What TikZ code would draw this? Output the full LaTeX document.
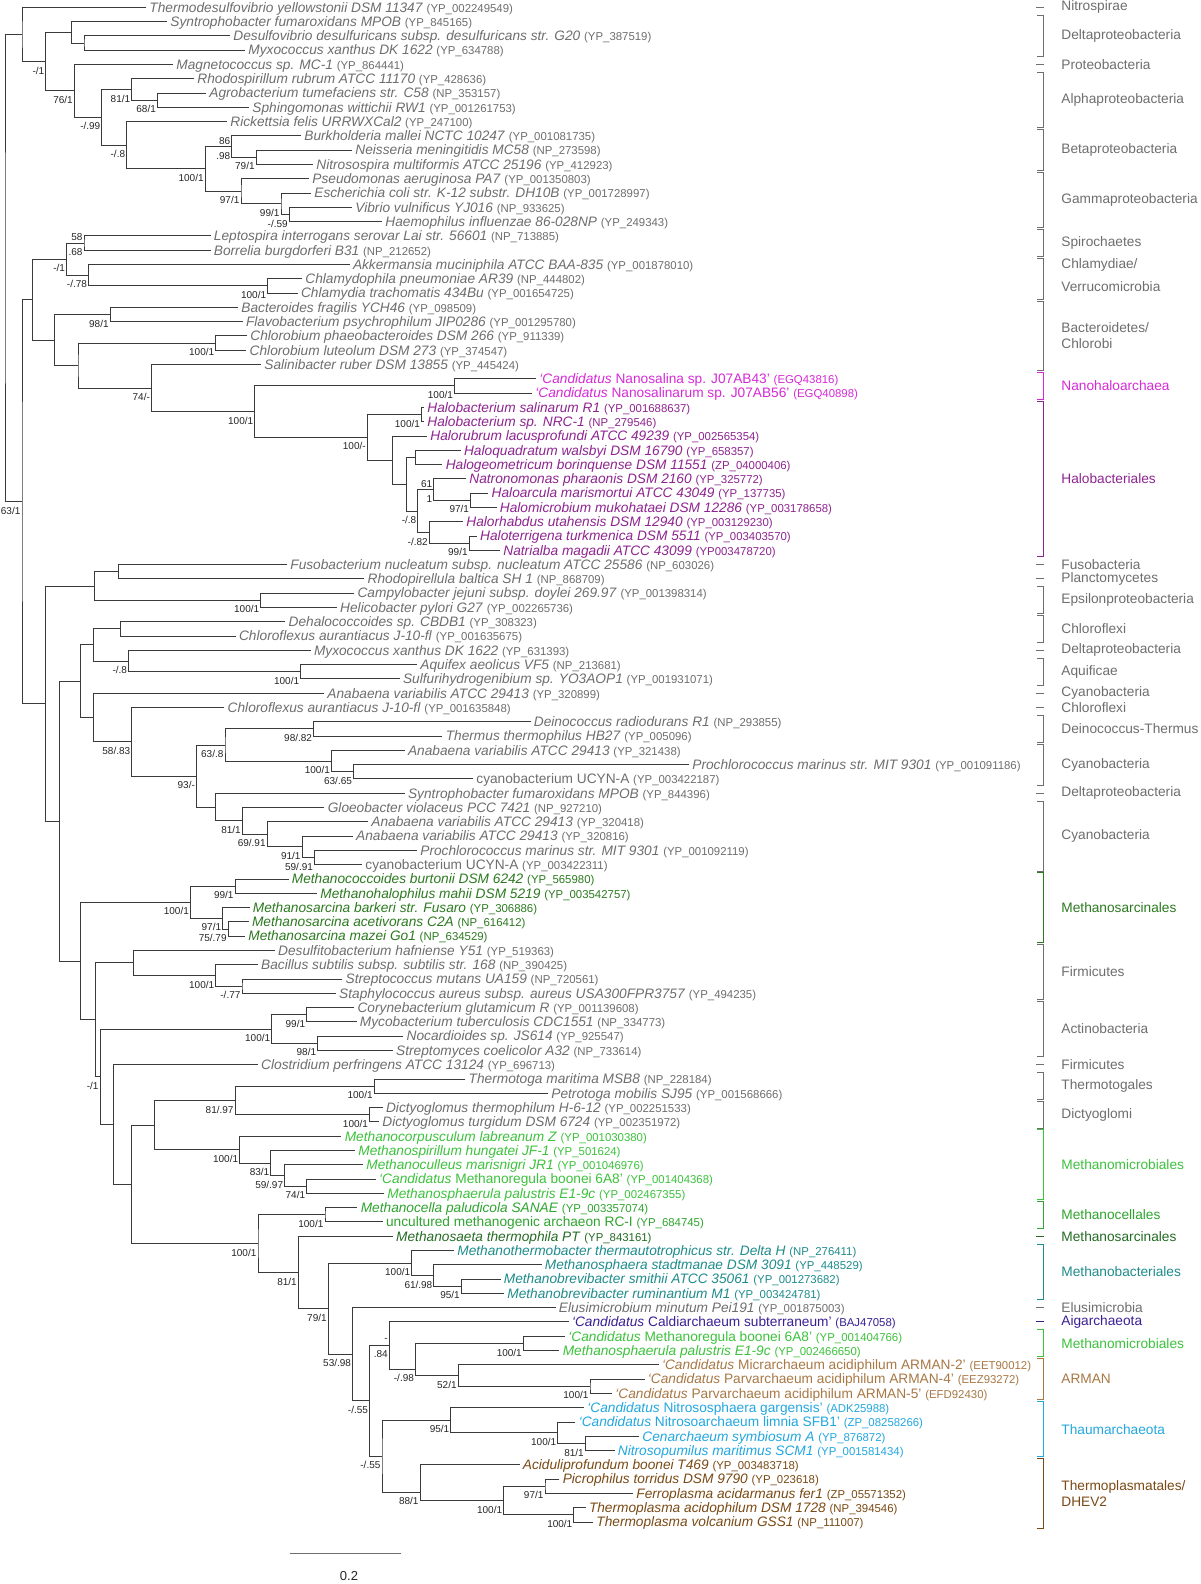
\documentclass[tikz,border=0pt]{standalone}
\usepackage{fontspec}
\setmainfont{Liberation Sans}
\usetikzlibrary{calc}
\definecolor{treeline}{HTML}{3A3A3A}
\definecolor{ggray}{HTML}{6E6E6E}
\definecolor{nano}{HTML}{D62AD6}
\definecolor{halo}{HTML}{8E2490}
\definecolor{msar}{HTML}{2C7A20}
\definecolor{mmic}{HTML}{3CC23C}
\definecolor{mcel}{HTML}{2EA52E}
\definecolor{msae}{HTML}{246B24}
\definecolor{mbac}{HTML}{1F8C8C}
\definecolor{aig}{HTML}{3A1F94}
\definecolor{arman}{HTML}{A87845}
\definecolor{thaum}{HTML}{22A7E0}
\definecolor{tplas}{HTML}{7A4A14}
\newcommand\Lf[5]{\coordinate (l#1) at (#2,{7.3+(#1-1)*14.29});
  \node[leafnode,text=#5] (t#1) at (l#1) {\textit{#3} {\fontsize{5.7}{6}\selectfont(#4)}};}
\newcommand\Lfu[5]{\coordinate (l#1) at (#2,{7.3+(#1-1)*14.29});
  \node[leafnode,text=#5] (t#1) at (l#1) {#3 {\fontsize{5.7}{6}\selectfont(#4)}};}
\newcommand\Tn[4]{\coordinate (#1m) at ($(#3)!0.5!(#4)$);
  \coordinate (#1x) at (#2,0);
  \coordinate (#1) at (#1x |- #1m);
  \draw[br] (#3) -| (#1) |- (#4);}
\newcommand\Tny[5]{\coordinate (#1) at (#2,#3);
  \draw[br] (#4) -| (#1) |- (#5);}
\newcommand\Bs[3][]{\node[sup,#1] at (#2) {#3};}
\newcommand\Grp[5][]{\draw[gline,draw=#5] (1037,{7.3+(#2-1)*14.29-6.3}) -- (1043,{7.3+(#2-1)*14.29-6.3}) -- (1043,{7.3+(#3-1)*14.29+6.3}) -- (1037,{7.3+(#3-1)*14.29+6.3});
  \node[glab,text=#5,#1] at (1061,{7.3+(#2+#3-2)*14.29/2}) {#4};}
\newcommand\Sg[3]{\draw[gline,draw=#3] (1036,{7.3+(#1-1)*14.29}) -- (1044,{7.3+(#1-1)*14.29});
  \node[glab,text=#3] at (1061,{7.3+(#1-1)*14.29}) {#2};}
\begin{document}
\begin{tikzpicture}[x=0.5pt,y=-0.5pt,
  br/.style={draw=treeline,line width=0.5pt},
  gline/.style={line width=0.5pt},
  leafnode/.style={anchor=base west,inner sep=0pt,xshift=1.5pt,yshift=-2.4pt,font=\fontsize{6.85}{7}\selectfont},
  sup/.style={anchor=east,inner sep=0pt,xshift=-0.6pt,yshift=-4.5pt,font=\fontsize{5}{6}\selectfont,text=black!85},
  supa/.style={yshift=7.5pt},
  glab/.style={anchor=west,inner sep=0pt,align=left,font=\fontsize{6.85}{8}\selectfont}]
\fill[white] (0,0) rectangle (1200,1584);
\useasboundingbox (0,0) rectangle (1200,1584);
% leaves
\Lf{1}{146}{Thermodesulfovibrio yellowstonii DSM 11347}{YP\_002249549}{ggray}
\Lf{2}{167}{Syntrophobacter fumaroxidans MPOB}{YP\_845165}{ggray}
\Lf{3}{230}{Desulfovibrio desulfuricans subsp. desulfuricans str. G20}{YP\_387519}{ggray}
\Lf{4}{245}{Myxococcus xanthus DK 1622}{YP\_634788}{ggray}
\Lf{5}{173}{Magnetococcus sp. MC-1}{YP\_864441}{ggray}
\Lf{6}{194}{Rhodospirillum rubrum ATCC 11170}{YP\_428636}{ggray}
\Lf{7}{206}{Agrobacterium tumefaciens str. C58}{NP\_353157}{ggray}
\Lf{8}{249}{Sphingomonas wittichii RW1}{YP\_001261753}{ggray}
\Lf{9}{227}{Rickettsia felis URRWXCal2}{YP\_247100}{ggray}
\Lf{10}{301}{Burkholderia mallei NCTC 10247}{YP\_001081735}{ggray}
\Lf{11}{352}{Neisseria meningitidis MC58}{NP\_273598}{ggray}
\Lf{12}{313}{Nitrosospira multiformis ATCC 25196}{YP\_412923}{ggray}
\Lf{13}{309}{Pseudomonas aeruginosa PA7}{YP\_001350803}{ggray}
\Lf{14}{311}{Escherichia coli str. K-12 substr. DH10B}{YP\_001728997}{ggray}
\Lf{15}{352}{Vibrio vulnificus YJ016}{NP\_933625}{ggray}
\Lf{16}{382}{Haemophilus influenzae 86-028NP}{YP\_249343}{ggray}
\Lf{17}{210.5}{Leptospira interrogans serovar Lai str. 56601}{NP\_713885}{ggray}
\Lf{18}{210.5}{Borrelia burgdorferi B31}{NP\_212652}{ggray}
\Lf{19}{349.6}{Akkermansia muciniphila ATCC BAA-835}{YP\_001878010}{ggray}
\Lf{20}{302}{Chlamydophila pneumoniae AR39}{NP\_444802}{ggray}
\Lf{21}{297.7}{Chlamydia trachomatis 434Bu}{YP\_001654725}{ggray}
\Lf{22}{238}{Bacteroides fragilis YCH46}{YP\_098509}{ggray}
\Lf{23}{242.6}{Flavobacterium psychrophilum JIP0286}{YP\_001295780}{ggray}
\Lf{24}{247}{Chlorobium phaeobacteroides DSM 266}{YP\_911339}{ggray}
\Lf{25}{246.3}{Chlorobium luteolum DSM 273}{YP\_374547}{ggray}
\Lf{26}{261}{Salinibacter ruber DSM 13855}{YP\_445424}{ggray}
\Lfu{27}{536}{{\itshape ‘Candidatus} Nanosalina sp. J07AB43’}{EGQ43816}{nano}
\Lfu{28}{532}{{\itshape ‘Candidatus} Nanosalinarum sp. J07AB56’}{EGQ40898}{nano}
\Lf{29}{424}{Halobacterium salinarum R1}{YP\_001688637}{halo}
\Lf{30}{424}{Halobacterium sp. NRC-1}{NP\_279546}{halo}
\Lf{31}{427}{Halorubrum lacusprofundi ATCC 49239}{YP\_002565354}{halo}
\Lf{32}{460.7}{Haloquadratum walsbyi DSM 16790}{YP\_658357}{halo}
\Lf{33}{442.4}{Halogeometricum borinquense DSM 11551}{ZP\_04000406}{halo}
\Lf{34}{466}{Natronomonas pharaonis DSM 2160}{YP\_325772}{halo}
\Lf{35}{488.3}{Haloarcula marismortui ATCC 43049}{YP\_137735}{halo}
\Lf{36}{496.5}{Halomicrobium mukohataei DSM 12286}{YP\_003178658}{halo}
\Lf{37}{463}{Halorhabdus utahensis DSM 12940}{YP\_003129230}{halo}
\Lf{38}{476.8}{Haloterrigena turkmenica DSM 5511}{YP\_003403570}{halo}
\Lf{39}{500}{Natrialba magadii ATCC 43099}{YP003478720}{halo}
\Lf{40}{287}{Fusobacterium nucleatum subsp. nucleatum ATCC 25586}{NP\_603026}{ggray}
\Lf{41}{364.3}{Rhodopirellula baltica SH 1}{NP\_868709}{ggray}
\Lf{42}{354.2}{Campylobacter jejuni subsp. doylei 269.97}{YP\_001398314}{ggray}
\Lf{43}{336.8}{Helicobacter pylori G27}{YP\_002265736}{ggray}
\Lf{44}{285.3}{Dehalococcoides sp. CBDB1}{YP\_308323}{ggray}
\Lf{45}{235.7}{Chloroflexus aurantiacus J-10-fl}{YP\_001635675}{ggray}
\Lf{46}{310.6}{Myxococcus xanthus DK 1622}{YP\_631393}{ggray}
\Lf{47}{417}{Aquifex aeolicus VF5}{NP\_213681}{ggray}
\Lf{48}{399.7}{Sulfurihydrogenibium sp. YO3AOP1}{YP\_001931071}{ggray}
\Lf{49}{324}{Anabaena variabilis ATCC 29413}{YP\_320899}{ggray}
\Lf{50}{224.3}{Chloroflexus aurantiacus J-10-fl}{YP\_001635848}{ggray}
\Lf{51}{530.5}{Deinococcus radiodurans R1}{NP\_293855}{ggray}
\Lf{52}{442.4}{Thermus thermophilus HB27}{YP\_005096}{ggray}
\Lf{53}{404.7}{Anabaena variabilis ATCC 29413}{YP\_321438}{ggray}
\Lf{54}{689}{Prochlorococcus marinus str. MIT 9301}{YP\_001091186}{ggray}
\Lfu{55}{473}{cyanobacterium UCYN-A}{YP\_003422187}{ggray}
\Lf{56}{404.7}{Syntrophobacter fumaroxidans MPOB}{YP\_844396}{ggray}
\Lf{57}{324.4}{Gloeobacter violaceus PCC 7421}{NP\_927210}{ggray}
\Lf{58}{368}{Anabaena variabilis ATCC 29413}{YP\_320418}{ggray}
\Lf{59}{352.8}{Anabaena variabilis ATCC 29413}{YP\_320816}{ggray}
\Lf{60}{417}{Prochlorococcus marinus str. MIT 9301}{YP\_001092119}{ggray}
\Lfu{61}{362}{cyanobacterium UCYN-A}{YP\_003422311}{ggray}
\Lf{62}{288.5}{Methanococcoides burtonii DSM 6242}{YP\_565980}{msar}
\Lf{63}{317}{Methanohalophilus mahii DSM 5219}{YP\_003542757}{msar}
\Lf{64}{249.5}{Methanosarcina barkeri str. Fusaro}{YP\_306886}{msar}
\Lf{65}{248.6}{Methanosarcina acetivorans C2A}{NP\_616412}{msar}
\Lf{66}{245}{Methanosarcina mazei Go1}{NP\_634529}{msar}
\Lf{67}{274.8}{Desulfitobacterium hafniense Y51}{YP\_519363}{ggray}
\Lf{68}{257.8}{Bacillus subtilis subsp. subtilis str. 168}{NP\_390425}{ggray}
\Lf{69}{342.3}{Streptococcus mutans UA159}{NP\_720561}{ggray}
\Lf{70}{335.8}{Staphylococcus aureus subsp. aureus USA300FPR3757}{YP\_494235}{ggray}
\Lf{71}{354.2}{Corynebacterium glutamicum R}{YP\_001139608}{ggray}
\Lf{72}{356.5}{Mycobacterium tuberculosis CDC1551}{NP\_334773}{ggray}
\Lf{73}{403.3}{Nocardioides sp. JS614}{YP\_925547}{ggray}
\Lf{74}{392.8}{Streptomyces coelicolor A32}{NP\_733614}{ggray}
\Lf{75}{257.8}{Clostridium perfringens ATCC 13124}{YP\_696713}{ggray}
\Lf{76}{465.3}{Thermotoga maritima MSB8}{NP\_228184}{ggray}
\Lf{77}{548}{Petrotoga mobilis SJ95}{YP\_001568666}{ggray}
\Lf{78}{382.7}{Dictyoglomus thermophilum H-6-12}{YP\_002251533}{ggray}
\Lf{79}{379}{Dictyoglomus turgidum DSM 6724}{YP\_002351972}{ggray}
\Lf{80}{341.4}{Methanocorpusculum labreanum Z}{YP\_001030380}{mmic}
\Lf{81}{355}{Methanospirillum hungatei JF-1}{YP\_501624}{mmic}
\Lf{82}{363}{Methanoculleus marisnigri JR1}{YP\_001046976}{mmic}
\Lfu{83}{375.8}{{\itshape ‘Candidatus} Methanoregula boonei 6A8’}{YP\_001404368}{mmic}
\Lf{84}{384}{Methanosphaerula palustris E1-9c}{YP\_002467355}{mmic}
\Lf{85}{357.4}{Methanocella paludicola SANAE}{YP\_003357074}{mcel}
\Lfu{86}{382.7}{uncultured methanogenic archaeon RC-I}{YP\_684745}{mcel}
\Lf{87}{392.8}{Methanosaeta thermophila PT}{YP\_843161}{msae}
\Lf{88}{454}{Methanothermobacter thermautotrophicus str. Delta H}{NP\_276411}{mbac}
\Lf{89}{541.5}{Methanosphaera stadtmanae DSM 3091}{YP\_448529}{mbac}
\Lf{90}{500.5}{Methanobrevibacter smithii ATCC 35061}{YP\_001273682}{mbac}
\Lf{91}{504}{Methanobrevibacter ruminantium M1}{YP\_003424781}{mbac}
\Lf{92}{555.5}{Elusimicrobium minutum Pei191}{YP\_001875003}{ggray}
\Lfu{93}{568.6}{{\itshape ‘Candidatus} Caldiarchaeum subterraneum’}{BAJ47058}{aig}
\Lfu{94}{565}{{\itshape ‘Candidatus} Methanoregula boonei 6A8’}{YP\_001404766}{mmic}
\Lf{95}{559.4}{Methanosphaerula palustris E1-9c}{YP\_002466650}{mmic}
\Lfu{96}{658.6}{{\itshape ‘Candidatus} Micrarchaeum acidiphilum ARMAN-2’}{EET90012}{arman}
\Lfu{97}{644.5}{{\itshape ‘Candidatus} Parvarchaeum acidiphilum ARMAN-4’}{EEZ93272}{arman}
\Lfu{98}{612}{{\itshape ‘Candidatus} Parvarchaeum acidiphilum ARMAN-5’}{EFD92430}{arman}
\Lfu{99}{584}{{\itshape ‘Candidatus} Nitrososphaera gargensis’}{ADK25988}{thaum}
\Lfu{100}{575.4}{{\itshape ‘Candidatus} Nitrosoarchaeum limnia SFB1’}{ZP\_08258266}{thaum}
\Lf{101}{639}{Cenarchaeum symbiosum A}{YP\_876872}{thaum}
\Lf{102}{614.5}{Nitrosopumilus maritimus SCM1}{YP\_001581434}{thaum}
\Lf{103}{519.5}{Aciduliprofundum boonei T469}{YP\_003483718}{tplas}
\Lf{104}{559.4}{Picrophilus torridus DSM 9790}{YP\_023618}{tplas}
\Lf{105}{633}{Ferroplasma acidarmanus fer1}{ZP\_05571352}{tplas}
\Lf{106}{585.6}{Thermoplasma acidophilum DSM 1728}{NP\_394546}{tplas}
\Lf{107}{593}{Thermoplasma volcanium GSS1}{NP\_111007}{tplas}
% internal nodes, top part
\Tn{C2}{84}{l3}{l4}
\Tn{C}{71.2}{l2}{C2}
\Tn{G}{157.5}{l7}{l8}
\Tn{F}{131.8}{l6}{G}
\Tn{L}{256.2}{l11}{l12}
\Tn{J}{231.9}{l10}{L}
\Tn{N}{289.3}{l15}{l16}
\Tn{M}{281}{l14}{N}
\Tn{K}{241}{l13}{M}
\Tn{I}{205.2}{J}{K}
\Tn{H}{126.7}{l9}{I}
\Tn{E}{101.9}{F}{H}
\Tn{D}{74.4}{l5}{E}
\Tn{B}{45.9}{C}{D}
\Tn{A}{22}{l1}{B}
\Tn{O}{84}{l17}{l18}
\Tn{P}{267.7}{l20}{l21}
\Tn{Q}{88.6}{l19}{P}
\Tn{R}{66.6}{O}{Q}
\Tn{V}{110.2}{l22}{l23}
\Tn{W}{215.8}{l24}{l25}
\Tn{Z}{454.5}{l27}{l28}
\Tn{AB}{421.5}{l29}{l30}
\Tn{AE}{415.5}{l32}{l33}
\Tn{AG}{470.6}{l35}{l36}
\Tn{AH}{433.9}{l34}{AG}
\Tn{AI}{469.2}{l38}{l39}
\Tn{AJ}{429.3}{l37}{AI}
\Tn{AK}{417.8}{AH}{AJ}
\Tn{AD}{406.3}{AE}{AK}
\Tn{AC}{392.6}{l31}{AD}
\Tn{AA}{367.3}{AB}{AC}
\Tn{Y}{254.8}{Z}{AA}
\Tn{X}{151.5}{l26}{Y}
\Tn{XA}{78}{W}{X}
\Tn{U}{54.2}{V}{XA}
\Tn{S}{32.1}{R}{U}
% lower part
\Tn{Fu}{118.5}{l40}{l41}
\Tn{Ca}{260.8}{l42}{l43}
\Tn{FG}{94.1}{Fu}{Ca}
\Tn{na}{120.3}{l44}{l45}
\Tn{nb}{300.7}{l47}{l48}
\Tn{nc}{128.6}{l46}{nb}
\Tn{nd}{93.2}{na}{nc}
\Tn{ne}{313.6}{l51}{l52}
\Tn{nf}{353.5}{l54}{l55}
\Tn{ng}{331.5}{l53}{nf}
\Tn{nh}{225}{ne}{ng}
\Tn{ni}{314.5}{l60}{l61}
\Tn{nj}{302.1}{l59}{ni}
\Tn{nk}{267.2}{l58}{nj}
\Tn{nl}{242.4}{l57}{nk}
\Tn{nm}{215.8}{l56}{nl}
\Tn{nn}{196.5}{nh}{nm}
\Tn{no}{131.8}{l50}{nn}
\Tn{np}{93.2}{l49}{no}
\Tn{II}{80.3}{nd}{np}
\Tn{sa}{235.1}{l62}{l63}
\Tn{sb}{228.2}{l65}{l66}
\Tn{sc}{222.7}{l64}{sb}
\Tn{Ms}{190.5}{sa}{sc}
\Tn{fa}{242}{l69}{l70}
\Tn{fb}{215.8}{l68}{fa}
\Tn{fc}{133.1}{l67}{fb}
\Tn{aa}{306.7}{l71}{l72}
\Tn{ab}{317.7}{l73}{l74}
\Tn{Ac}{271.8}{aa}{ab}
\Tn{ta}{374.2}{l76}{l77}
\Tn{tb}{369.6}{l78}{l79}
\Tn{tc}{235.1}{ta}{tb}
\Tn{ma}{306.7}{l83}{l84}
\Tn{mb}{284.7}{l82}{ma}
\Tn{mc}{270.9}{l81}{mb}
\Tn{md}{239.7}{l80}{mc}
\Tn{te}{154.7}{tc}{md}
\Tn{ce}{325}{l85}{l86}
\Tn{ba}{461.4}{l90}{l91}
\Tn{bb}{433.9}{l89}{ba}
\Tn{bc}{411.8}{l88}{bb}
\Tn{pa}{523.4}{l94}{l95}
\Tn{pb}{590}{l97}{l98}
\Tn{pc}{458.2}{l96}{pb}
\Tny{pd}{415.5}{1369}{pa}{pc}
\Tn{KK}{389.3}{l93}{pd}
\Tn{PP}{585.4}{l101}{l102}
\Tn{OO}{557.8}{l100}{PP}
\Tn{NN}{450.9}{l99}{OO}
\Tn{SS}{545}{l104}{l105}
\Tn{TT}{573.9}{l106}{l107}
\Tn{RR}{503.7}{SS}{TT}
\Tny{QQ}{420.1}{1492}{l103}{RR}
\Tn{MM}{382}{NN}{QQ}
\Tn{LL}{369.6}{KK}{MM}
\Tn{WW}{352.6}{l92}{LL}
\Tn{VV}{328.3}{bc}{WW}
\Tn{UU}{298.4}{l87}{VV}
\Tn{JJ}{258}{ce}{UU}
\Tn{GG}{131.8}{te}{JJ}
\Tn{FF}{113.9}{l75}{GG}
\Tn{EE}{100.1}{Ac}{FF}
\Tn{DD}{95.5}{fc}{EE}
\Tn{HH}{80.3}{Ms}{DD}
\Tn{CC}{59.7}{II}{HH}
\Tn{BB}{45.9}{FG}{CC}
\Tn{T}{22}{S}{BB}
\Tn{root}{5}{A}{T}
% support values
\Bs{B}{-/1}
\Bs{T}{63/1}
\Bs{D}{76/1}
\Bs{E}{-/.99}
\Bs{F}{81/1}
\Bs{G}{68/1}
\Bs{H}{-/.8}
\Bs{I}{100/1}
\Bs[supa]{J}{86}
\Bs{J}{.98}
\Bs{L}{79/1}
\Bs{K}{97/1}
\Bs{M}{99/1}
\Bs{N}{-/.59}
\Bs[supa]{O}{58}
\Bs{O}{.68}
\Bs{R}{-/1}
\Bs{Q}{-/.78}
\Bs{P}{100/1}
\Bs{V}{98/1}
\Bs{W}{100/1}
\Bs{X}{74/-}
\Bs{Y}{100/1}
\Bs{Z}{100/1}
\Bs{AA}{100/-}
\Bs{AB}{100/1}
\Bs{AK}{-/.8}
\Bs[supa]{AH}{61}
\Bs{AH}{1}
\Bs{AG}{97/1}
\Bs{AJ}{-/.82}
\Bs{AI}{99/1}
\Bs{Ca}{100/1}
\Bs{nc}{-/.8}
\Bs{nb}{100/1}
\Bs{no}{58/.83}
\Bs{nn}{93/-}
\Bs{nh}{63/.8}
\Bs{ne}{98/.82}
\Bs{ng}{100/1}
\Bs{nf}{63/.65}
\Bs{nl}{81/1}
\Bs{nk}{69/.91}
\Bs{nj}{91/1}
\Bs{ni}{59/.91}
\Bs{Ms}{100/1}
\Bs{sa}{99/1}
\Bs{sc}{97/1}
\Bs{sb}{75/.79}
\Bs{fb}{100/1}
\Bs{fa}{-/.77}
\Bs{EE}{-/1}
\Bs{Ac}{100/1}
\Bs{aa}{99/1}
\Bs{ab}{98/1}
\Bs{tc}{81/.97}
\Bs{ta}{100/1}
\Bs{tb}{100/1}
\Bs{md}{100/1}
\Bs{mc}{83/1}
\Bs{mb}{59/.97}
\Bs{ma}{74/1}
\Bs{ce}{100/1}
\Bs{JJ}{100/1}
\Bs{UU}{81/1}
\Bs{VV}{79/1}
\Bs{bc}{100/1}
\Bs{bb}{61/.98}
\Bs{ba}{95/1}
\Bs{WW}{53/.98}
\Bs{LL}{-/.55}
\Bs[supa]{KK}{-}
\Bs{KK}{.84}
\Bs{pd}{-/.98}
\Bs{pa}{100/1}
\Bs{pc}{52/1}
\Bs{pb}{100/1}
\Bs{MM}{-/.55}
\Bs{NN}{95/1}
\Bs{OO}{100/1}
\Bs{PP}{81/1}
\Bs{QQ}{88/1}
\Bs{RR}{100/1}
\Bs{SS}{97/1}
\Bs{TT}{100/1}
% groups
\Sg{1}{Nitrospirae}{ggray}
\Grp{2}{4}{Deltaproteobacteria}{ggray}
\Sg{5}{Proteobacteria}{ggray}
\Grp{6}{9}{Alphaproteobacteria}{ggray}
\Grp{10}{12}{Betaproteobacteria}{ggray}
\Grp{13}{16}{Gammaproteobacteria}{ggray}
\Grp{17}{18}{Spirochaetes}{ggray}
\Grp[yshift=2pt]{19}{21}{Chlamydiae/\\[3.5pt]Verrucomicrobia}{ggray}
\Grp{22}{26}{Bacteroidetes/\\Chlorobi}{ggray}
\Grp{27}{28}{Nanohaloarchaea}{nano}
\Grp{29}{39}{Halobacteriales}{halo}
\Sg{40}{Fusobacteria}{ggray}
\Sg{41}{Planctomycetes}{ggray}
\Grp{42}{43}{Epsilonproteobacteria}{ggray}
\Grp{44}{45}{Chloroflexi}{ggray}
\Sg{46}{Deltaproteobacteria}{ggray}
\Grp{47}{48}{Aquificae}{ggray}
\Sg{49}{Cyanobacteria}{ggray}
\Sg{50}{Chloroflexi}{ggray}
\Grp{51}{52}{Deinococcus-Thermus}{ggray}
\Grp{53}{55}{Cyanobacteria}{ggray}
\Sg{56}{Deltaproteobacteria}{ggray}
\Grp{57}{61}{Cyanobacteria}{ggray}
\Grp{62}{66}{Methanosarcinales}{msar}
\Grp{67}{70}{Firmicutes}{ggray}
\Grp{71}{74}{Actinobacteria}{ggray}
\Sg{75}{Firmicutes}{ggray}
\Grp{76}{77}{Thermotogales}{ggray}
\Grp{78}{79}{Dictyoglomi}{ggray}
\Grp{80}{84}{Methanomicrobiales}{mmic}
\Grp{85}{86}{Methanocellales}{mcel}
\Sg{87}{Methanosarcinales}{msae}
\Grp{88}{91}{Methanobacteriales}{mbac}
\Sg{92}{Elusimicrobia}{ggray}
\Sg{93}{Aigarchaeota}{aig}
\Grp{94}{95}{Methanomicrobiales}{mmic}
\Grp{96}{98}{ARMAN}{arman}
\Grp{99}{102}{Thaumarchaeota}{thaum}
\Grp{103}{107}{Thermoplasmatales/\\DHEV2}{tplas}
% scale bar
\coordinate (sb1) at (290,1553);
\coordinate (sb2) at (401,1553);
\draw[br,draw=ggray] (sb1) -- (sb2);
\node[inner sep=0pt,font=\fontsize{6.5}{7}\selectfont,text=black!85] (sbl) at (349,1576) {0.2};
\end{tikzpicture}
\end{document}
